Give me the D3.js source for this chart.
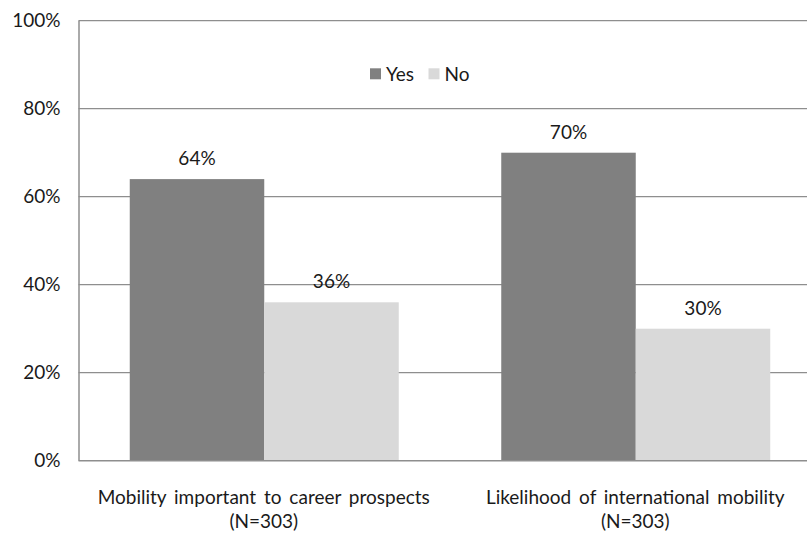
<!DOCTYPE html>
<html>
<head>
<meta charset="utf-8">
<script src="https://cdn.jsdelivr.net/npm/d3@7"></script>
<style>
  html, body { margin: 0; padding: 0; background: #fff; }
  svg { display: block; font-family: Lato, "Open Sans", sans-serif; }
</style>
</head>
<body>
<svg id="chart" width="807" height="533"></svg>
<script>
// Survey answers, percent of respondents
const categories = ["Mobility important to career prospects", "Likelihood of international mobility"];
const categoryNotes = ["(N=303)", "(N=303)"];
const seriesNames = ["Yes", "No"];
const yesValues = [64, 70];
const noValues = [36, 30];
const yTicks = [0, 20, 40, 60, 80, 100];

const colors = { Yes: "#808080", No: "#d9d9d9" };
const fontSize = 19;
const textColor = "#1a1a1a";
const lineColor = "#8e8e8e";

const svg = d3.select("#chart");
const margin = { left: 78.5, top: 20.7, bottom: 460.7, right: 821.5 };

const x0 = d3.scaleBand().domain(categories).range([margin.left, margin.right]).padding(0);
const groupPad = 51.25;
const x1 = d3.scaleBand().domain(seriesNames).padding(0);
x1.range([groupPad, x0.bandwidth() - groupPad]);

const y = d3.scaleLinear().domain([0, 100]).range([margin.bottom, margin.top]);

// Horizontal gridlines and y-axis labels
const yAxis = d3.axisLeft(y).tickValues(yTicks).tickFormat(d => d + "%").tickSize(0).tickPadding(18);
const gy = svg.append("g").attr("transform", `translate(${margin.left},0)`).call(yAxis);
gy.select(".domain").remove();
gy.selectAll("text").attr("font-size", fontSize).attr("fill", textColor).attr("font-family", "Lato, sans-serif");

svg.append("g").selectAll("line").data(yTicks.filter(t => t > 0)).join("line")
  .attr("x1", margin.left).attr("x2", 807)
  .attr("y1", d => y(d)).attr("y2", d => y(d))
  .attr("stroke", lineColor).attr("stroke-width", 1.3);

// Bars
const rows = categories.map((c, i) => ({ cat: c, values: [
  { key: "Yes", value: yesValues[i] },
  { key: "No", value: noValues[i] }
]}));

const groups = svg.append("g").selectAll("g").data(rows).join("g")
  .attr("transform", d => `translate(${x0(d.cat)},0)`);

groups.selectAll("rect").data(d => d.values).join("rect")
  .attr("x", d => x1(d.key))
  .attr("width", x1.bandwidth())
  .attr("y", d => y(d.value))
  .attr("height", d => y(0) - y(d.value))
  .attr("fill", d => colors[d.key]);

groups.selectAll("text.val").data(d => d.values).join("text")
  .attr("class", "val")
  .attr("x", d => x1(d.key) + x1.bandwidth() / 2)
  .attr("y", d => y(d.value) - 14)
  .attr("text-anchor", "middle")
  .attr("font-size", fontSize)
  .attr("fill", textColor)
  .text(d => d.value + "%");

// Axis lines
svg.append("line").attr("x1", 79).attr("x2", 79).attr("y1", margin.top).attr("y2", margin.bottom)
  .attr("stroke", lineColor).attr("stroke-width", 1.5);
svg.append("line").attr("x1", 78.5).attr("x2", 807).attr("y1", y(0)).attr("y2", y(0))
  .attr("stroke", lineColor).attr("stroke-width", 1.5);

// Category labels
const cx = d => x0(d) + x0.bandwidth() / 2 - 0.5;
const xl = svg.append("g").selectAll("text").data(categories).join("text")
  .attr("text-anchor", "middle")
  .attr("font-size", fontSize)
  .attr("word-spacing", 3)
  .attr("fill", textColor);
xl.append("tspan").attr("x", cx).attr("y", 504).text(d => d);
xl.append("tspan").attr("x", cx).attr("y", 528).text((d, i) => categoryNotes[i]);

// Legend
const legend = svg.append("g");
const legendX = [370, 428.5];
seriesNames.forEach((s, i) => {
  legend.append("rect").attr("x", legendX[i]).attr("y", 68.3).attr("width", 11).attr("height", 11).attr("fill", colors[s]);
  legend.append("text").attr("x", legendX[i] + 16).attr("y", 81).attr("font-size", fontSize).attr("fill", textColor).text(s);
});
</script>
</body>
</html>
